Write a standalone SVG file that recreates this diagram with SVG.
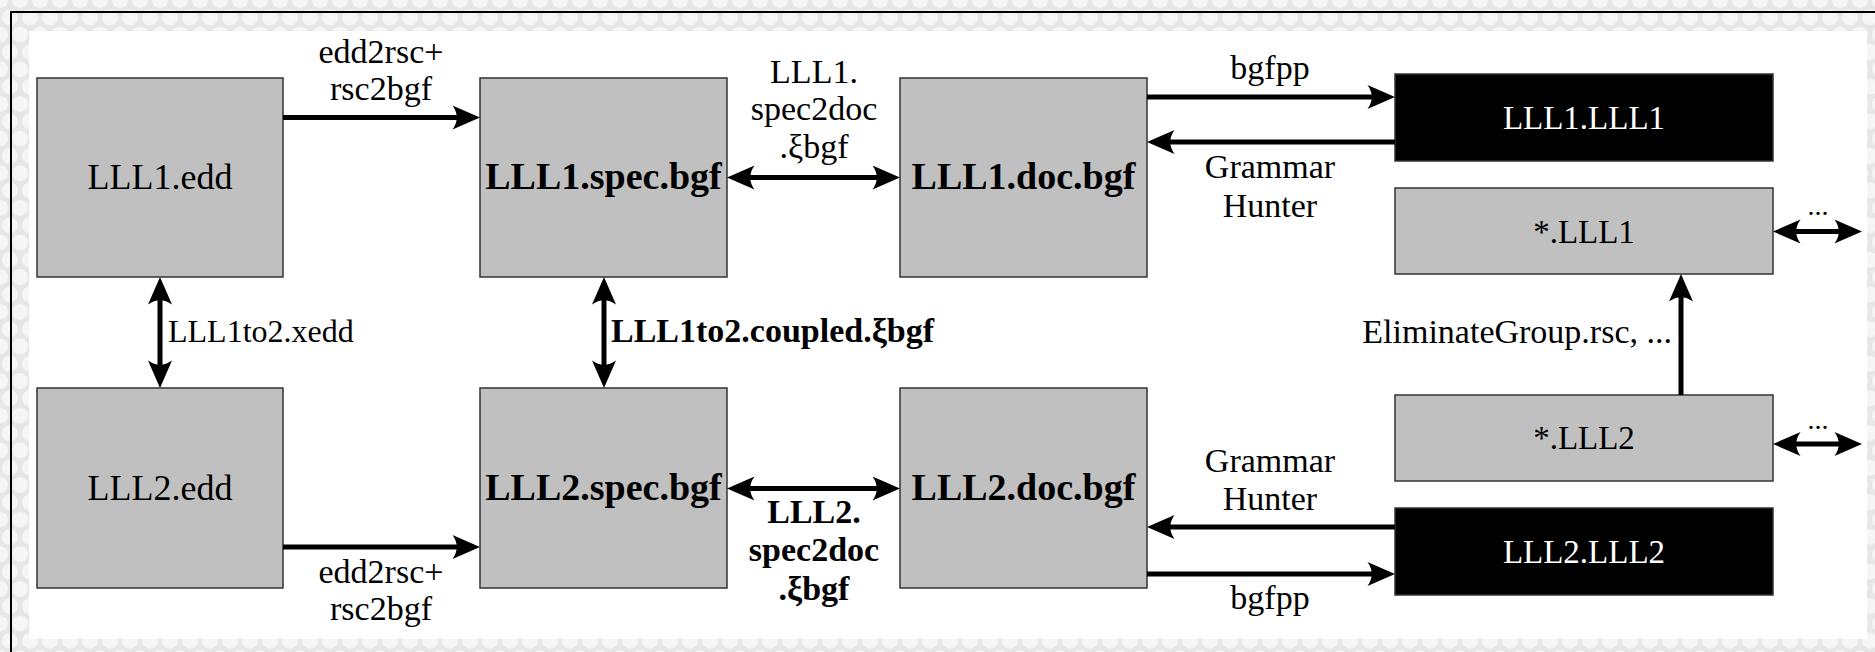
<svg xmlns="http://www.w3.org/2000/svg" width="1875" height="652" viewBox="0 0 1875 652">
  <defs>
    <pattern id="tex" width="20" height="34.64" patternUnits="userSpaceOnUse">
      <rect width="20" height="34.64" fill="#e6e6e6"/>
      <circle cx="0" cy="0" r="8" fill="#f6f6f6"/>
      <circle cx="20" cy="0" r="8" fill="#f6f6f6"/>
      <circle cx="10" cy="17.32" r="8" fill="#f6f6f6"/>
      <circle cx="0" cy="34.64" r="8" fill="#f6f6f6"/>
      <circle cx="20" cy="34.64" r="8" fill="#f6f6f6"/>
    </pattern>
    <marker id="ah" markerUnits="userSpaceOnUse" markerWidth="30" markerHeight="26" viewBox="0 0 30 26" refX="18" refY="12" orient="auto-start-reverse">
      <path d="M28,12 L0.5,0 Q9,12 0.5,24 Z" fill="#000"/>
    </marker>
  </defs>
  <style>
    .box { fill: #c0c0c0; stroke: #333; stroke-width: 1.5; }
    .dark { fill: #000; stroke: #333; stroke-width: 1.5; }
    .con { stroke: #000; stroke-width: 5; fill: none; }
    text { font-family: 'Liberation Serif', 'DejaVu Serif', serif; fill: #000; }
    .lbl { font-size: 34px; text-anchor: middle; }
    .rt { font-size: 33px; text-anchor: middle; }
    .node { font-size: 36px; text-anchor: middle; }
    .bold { font-size: 38px; font-weight: bold; text-anchor: middle; }
    .wht { fill: #fff; }
  </style>

  <!-- background -->
  <rect x="0" y="0" width="1875" height="652" fill="url(#tex)"/>
  <path d="M11,652 L11,12 L1875,12" fill="none" stroke="#000" stroke-width="2"/>
  <rect x="29" y="31" width="1838" height="608" fill="#fff"/>

  <!-- nodes -->
  <g id="lll1-edd">
    <rect class="box" x="37" y="78" width="246" height="199"/>
    <text class="node" x="160" y="189">LLL1.edd</text>
  </g>
  <g id="lll1-spec">
    <rect class="box" x="480" y="78" width="247" height="199"/>
    <text class="bold" x="603.5" y="189">LLL1.spec.bgf</text>
  </g>
  <g id="lll1-doc">
    <rect class="box" x="900" y="78" width="247" height="199"/>
    <text class="bold" x="1023.5" y="189">LLL1.doc.bgf</text>
  </g>
  <g id="lll2-edd">
    <rect class="box" x="37" y="388" width="246" height="200"/>
    <text class="node" x="160" y="500">LLL2.edd</text>
  </g>
  <g id="lll2-spec">
    <rect class="box" x="480" y="388" width="247" height="200"/>
    <text class="bold" x="603.5" y="500">LLL2.spec.bgf</text>
  </g>
  <g id="lll2-doc">
    <rect class="box" x="900" y="388" width="247" height="200"/>
    <text class="bold" x="1023.5" y="500">LLL2.doc.bgf</text>
  </g>
  <g id="lll1-lll1">
    <rect class="dark" x="1395" y="74" width="378" height="87"/>
    <text class="rt wht" x="1584" y="129">LLL1.LLL1</text>
  </g>
  <g id="star-lll1">
    <rect class="box" x="1395" y="188" width="378" height="86"/>
    <text class="rt" x="1584" y="243">*.LLL1</text>
  </g>
  <g id="star-lll2">
    <rect class="box" x="1395" y="395" width="378" height="86"/>
    <text class="rt" x="1584" y="449">*.LLL2</text>
  </g>
  <g id="lll2-lll2">
    <rect class="dark" x="1395" y="508" width="378" height="87"/>
    <text class="rt wht" x="1584" y="563">LLL2.LLL2</text>
  </g>

  <!-- connectors -->
  <g id="connectors">
    <path class="con" d="M283,117.5 L470,117.5" marker-end="url(#ah)"/>
    <path class="con" d="M283,547 L470,547" marker-end="url(#ah)"/>
    <path class="con" d="M160,287 L160,378" marker-start="url(#ah)" marker-end="url(#ah)"/>
    <path class="con" d="M604,287 L604,378" marker-start="url(#ah)" marker-end="url(#ah)"/>
    <path class="con" d="M737,177.5 L890,177.5" marker-start="url(#ah)" marker-end="url(#ah)"/>
    <path class="con" d="M737,488.5 L890,488.5" marker-start="url(#ah)" marker-end="url(#ah)"/>
    <path class="con" d="M1147,97 L1385,97" marker-end="url(#ah)"/>
    <path class="con" d="M1395,142 L1157,142" marker-end="url(#ah)"/>
    <path class="con" d="M1395,527 L1157,527" marker-end="url(#ah)"/>
    <path class="con" d="M1147,574 L1385,574" marker-end="url(#ah)"/>
    <path class="con" d="M1681,395 L1681,284" marker-end="url(#ah)"/>
    <path class="con" d="M1783,231.5 L1852,231.5" marker-start="url(#ah)" marker-end="url(#ah)"/>
    <path class="con" d="M1783,444 L1852,444" marker-start="url(#ah)" marker-end="url(#ah)"/>

    <text class="lbl" x="381" y="63">edd2rsc+</text>
    <text class="lbl" x="381" y="100">rsc2bgf</text>
    <text class="lbl" x="381" y="583">edd2rsc+</text>
    <text class="lbl" x="381" y="620">rsc2bgf</text>
    <text class="lbl" x="814" y="83">LLL1.</text>
    <text class="lbl" x="814" y="120">spec2doc</text>
    <text class="lbl" x="814" y="158">.ξbgf</text>
    <text class="lbl" x="814" y="523" font-weight="bold">LLL2.</text>
    <text class="lbl" x="814" y="561" font-weight="bold">spec2doc</text>
    <text class="lbl" x="814" y="600" font-weight="bold">.ξbgf</text>
    <text x="168" y="342" font-size="32">LLL1to2.xedd</text>
    <text x="611" y="342" font-size="34" font-weight="bold">LLL1to2.coupled.ξbgf</text>
    <text class="lbl" x="1270" y="79">bgfpp</text>
    <text class="lbl" x="1270" y="178">Grammar</text>
    <text class="lbl" x="1270" y="217">Hunter</text>
    <text class="lbl" x="1270" y="472">Grammar</text>
    <text class="lbl" x="1270" y="510">Hunter</text>
    <text class="lbl" x="1270" y="609">bgfpp</text>
    <text x="1672" y="343" font-size="34" text-anchor="end">EliminateGroup.rsc, ...</text>
    <text x="1818" y="215" font-size="28" text-anchor="middle">...</text>
    <text x="1818" y="429" font-size="28" text-anchor="middle">...</text>
  </g>
</svg>
